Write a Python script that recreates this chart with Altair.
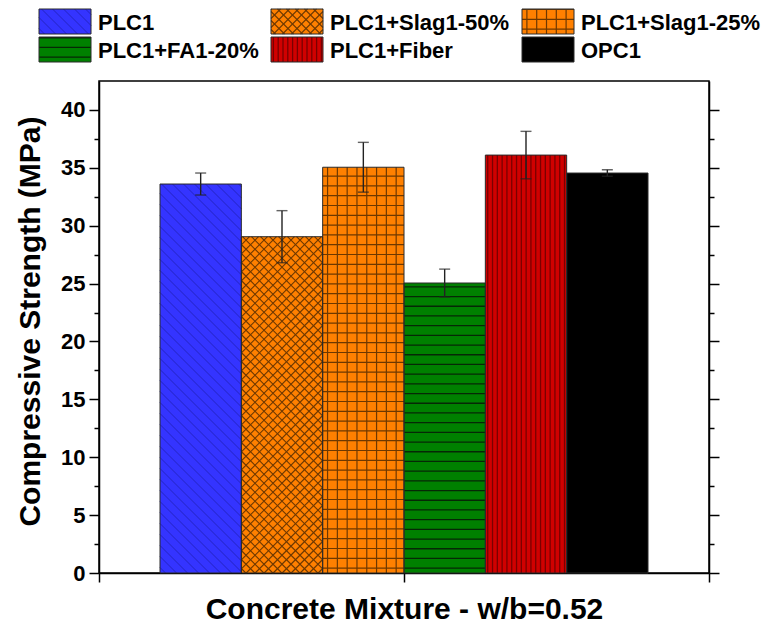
import altair as alt
import pandas as pd

# ---- data -------------------------------------------------------------
mixes = ["PLC1", "PLC1+Slag1-50%", "PLC1+Slag1-25%", "PLC1+FA1-20%", "PLC1+Fiber", "OPC1"]
strength = [33.6, 29.05, 35.05, 25.05, 36.1, 34.55]      # MPa
strength_sd = [0.95, 2.25, 2.15, 1.2, 2.05, 0.28]          # MPa

# ---- layout / style -----------------------------------------------------
FONT = "Liberation Sans"
PLOT_W, PLOT_H = 610, 492
X_MAX, Y_MAX = 7.5, 42.5
PX_X = PLOT_W / X_MAX        # pixels per x unit (one bar is one unit wide)
PX_Y = PLOT_H / Y_MAX        # pixels per MPa

PAD_L, PAD_T = 14, 5
LEG_W, LEG_H = 655, 60
LEG_COL_X = [-60, 172, 423]  # swatch left edges, relative to the plot's left edge
LEG_ROW_Y = [4, 32]          # swatch top edges inside the legend strip
SW_W, SW_H = 52, 25

# fill styles: base colour, hatch colour, hatch directions, spacing (px), line width
STYLE = {
    "PLC1":           dict(base="#3434FF", line="#2424C4", kinds=["back"], sp=11, lw=1.0),
    "PLC1+Slag1-50%": dict(base="#FF8000", line="#6E3800", kinds=["back", "fwd"], sp=9, lw=1.1),
    "PLC1+Slag1-25%": dict(base="#FF8000", line="#6E3800", kinds=["vert", "horiz"], sp=9.8, lw=1.2),
    "PLC1+FA1-20%":   dict(base="#008000", line="#062806", kinds=["horiz"], sp=9.7, lw=1.3),
    "PLC1+Fiber":     dict(base="#D00000", line="#7A0000", kinds=["vert"], sp=4.8, lw=1.3),
    "OPC1":           dict(base="#000000", line="#000000", kinds=[], sp=10, lw=1),
}
EDGE = "#2A2A2A"


def hatch_segments(kind, w, h, sp):
    """Hatch line segments inside a w x h pixel box (origin bottom-left, y up)."""
    segs = []
    if kind == "vert":
        p = sp / 2
        while p < w:
            segs.append((p, 0, p, h))
            p += sp
    elif kind == "horiz":
        p = sp / 2
        while p < h:
            segs.append((0, p, w, p))
            p += sp
    elif kind == "back":          # lines falling to the right
        c = sp / 2
        while c < w + h:
            a, b = max(0.0, c - h), min(w, c)
            segs.append((a, c - a, b, c - b))
            c += sp
    elif kind == "fwd":           # lines rising to the right
        c = -w + sp / 2
        while c < h:
            a, b = max(0.0, -c), min(w, h - c)
            segs.append((a, a + c, b, b + c))
            c += sp
    return segs


df = pd.DataFrame({"mix": mixes, "strength": strength, "sd": strength_sd,
                   "idx": list(range(len(mixes)))})
df["fillc"] = [STYLE[m]["base"] for m in mixes]

# hatch lines for the bars, in data units
rows = []
for i, m in enumerate(mixes):
    st = STYLE[m]
    for kind in st["kinds"]:
        for x1, y1, x2, y2 in hatch_segments(kind, PX_X, strength[i] * PX_Y, st["sp"]):
            rows.append(dict(hx=i + 0.75 + x1 / PX_X, hy=y1 / PX_Y,
                             hx2=i + 0.75 + x2 / PX_X, hy2=y2 / PX_Y,
                             col=st["line"], lw=st["lw"]))
hatch = pd.DataFrame(rows)

base = alt.Chart(df).transform_calculate(
    x0="datum.idx + 0.75", x1="datum.idx + 1.75", xc="datum.idx + 1.25",
    lo="datum.strength - datum.sd", hi="datum.strength + datum.sd",
)
xs = alt.Scale(domain=[0, X_MAX], nice=False, zero=False)
ys = alt.Scale(domain=[0, Y_MAX], nice=False)

major = "datum.value % 5 === 0"
y_ticks = [i * 2.5 for i in range(17)]

bars = base.mark_rect().encode(
    x=alt.X("x0:Q", scale=xs, axis=alt.Axis(
        orient="bottom", values=[0, X_MAX / 2, X_MAX], labels=False, tickSize=9,
        title="Concrete Mixture - w/b=0.52", titleFontSize=30, titlePadding=12,
        titleFont=FONT, titleFontWeight="bold")),
    x2="x1:Q",
    y=alt.Y("strength:Q", scale=ys, axis=alt.Axis(
        orient="left", values=y_ticks, labelExpr=f"{major} ? datum.label : ''",
        tickSize={"condition": {"test": major, "value": 10}, "value": 5},
        labelPadding=4, title="Compressive Strength (MPa)", titleFontSize=30,
        titlePadding=15, titleY=240, titleFont=FONT, titleFontWeight="bold")),
    y2=alt.datum(0),
    fill=alt.Fill("fillc:N", scale=None),
)

hatch_lines = alt.Chart(hatch).mark_rule().encode(
    x=alt.X("hx:Q", scale=xs, axis=None), x2="hx2:Q",
    y=alt.Y("hy:Q", scale=ys, axis=None), y2="hy2:Q",
    color=alt.Color("col:N", scale=None),
    strokeWidth=alt.StrokeWidth("lw:Q", scale=None),
)

outlines = base.mark_rect(fillOpacity=0, stroke=EDGE, strokeWidth=1).encode(
    x=alt.X("x0:Q", scale=xs, axis=None), x2="x1:Q",
    y=alt.Y("strength:Q", scale=ys, axis=None), y2=alt.datum(0),
)

err_rule = base.mark_rule(color="#222222", strokeWidth=1.4).encode(
    x=alt.X("xc:Q", scale=xs, axis=None),
    y=alt.Y("lo:Q", scale=ys, axis=None),
    y2="hi:Q",
)
cap_hi = base.mark_tick(color="#222222", thickness=1.4, size=11, orient="horizontal").encode(
    x=alt.X("xc:Q", scale=xs, axis=None),
    y=alt.Y("hi:Q", scale=ys, axis=alt.Axis(
        orient="right", values=y_ticks, labels=False, title=None,
        tickSize={"condition": {"test": major, "value": 10}, "value": 5})),
)
cap_lo = base.mark_tick(color="#222222", thickness=1.4, size=11, orient="horizontal").encode(
    x=alt.X("xc:Q", scale=xs, axis=None),
    y=alt.Y("lo:Q", scale=ys, axis=None),
)

main = alt.layer(bars, hatch_lines, outlines, err_rule, cap_hi, cap_lo).resolve_axis(
    x="independent", y="independent"
).properties(
    width=PLOT_W, height=PLOT_H,
    view=alt.ViewBackground(stroke="black", strokeWidth=1.5),
)

# ---- legend ---------------------------------------------------------------
leg = pd.DataFrame({"mix": mixes})
leg["sx"] = [LEG_COL_X[i % 3] for i in range(len(mixes))]
leg["sy"] = [LEG_ROW_Y[i // 3] for i in range(len(mixes))]
leg["sx2"] = leg["sx"] + SW_W
leg["sy2"] = leg["sy"] + SW_H
leg["tx"] = leg["sx"] + SW_W + 7
leg["ty"] = leg["sy"] + SW_H / 2 + 8
leg["fillc"] = [STYLE[m]["base"] for m in mixes]

lrows = []
for i, m in enumerate(mixes):
    st = STYLE[m]
    sx, sy2 = leg.loc[i, "sx"], leg.loc[i, "sy2"]
    for kind in st["kinds"]:
        for x1, y1, x2, y2 in hatch_segments(kind, SW_W, SW_H, st["sp"]):
            lrows.append(dict(hx=sx + x1, hy=sy2 - y1, hx2=sx + x2, hy2=sy2 - y2,
                              col=st["line"], lw=st["lw"]))
leg_hatch = pd.DataFrame(lrows)

lxs = alt.Scale(domain=[0, LEG_W], nice=False, zero=False)
lys = alt.Scale(domain=[0, LEG_H], nice=False, reverse=True)

swatches = alt.Chart(leg).mark_rect().encode(
    x=alt.X("sx:Q", scale=lxs, axis=None), x2="sx2:Q",
    y=alt.Y("sy:Q", scale=lys, axis=None), y2="sy2:Q",
    fill=alt.Fill("fillc:N", scale=None),
)
sw_hatch = alt.Chart(leg_hatch).mark_rule().encode(
    x=alt.X("hx:Q", scale=lxs, axis=None), x2="hx2:Q",
    y=alt.Y("hy:Q", scale=lys, axis=None), y2="hy2:Q",
    color=alt.Color("col:N", scale=None),
    strokeWidth=alt.StrokeWidth("lw:Q", scale=None),
)
sw_edge = alt.Chart(leg).mark_rect(fillOpacity=0, stroke=EDGE, strokeWidth=1).encode(
    x=alt.X("sx:Q", scale=lxs, axis=None), x2="sx2:Q",
    y=alt.Y("sy:Q", scale=lys, axis=None), y2="sy2:Q",
)
leg_text = alt.Chart(leg).mark_text(align="left", baseline="alphabetic", font=FONT,
                                    fontSize=22, fontWeight="bold", color="black").encode(
    x=alt.X("tx:Q", scale=lxs, axis=None),
    y=alt.Y("ty:Q", scale=lys, axis=None),
    text="mix:N",
)
legend = alt.layer(swatches, sw_hatch, sw_edge, leg_text).properties(
    width=LEG_W, height=LEG_H, view=alt.ViewBackground(strokeWidth=0),
)

chart = alt.vconcat(legend, main, spacing=15).properties(
    padding={"left": PAD_L, "top": PAD_T, "right": 0, "bottom": 0},
    background="white",
).configure_axis(
    labelFont=FONT, labelFontWeight="bold", labelFontSize=22, labelColor="black",
    tickColor="black", domainColor="black", tickWidth=1.5, domainWidth=1.5,
    grid=False, titleColor="black",
)

chart.save("out.html", embed_options={"renderer": "svg", "actions": False})
